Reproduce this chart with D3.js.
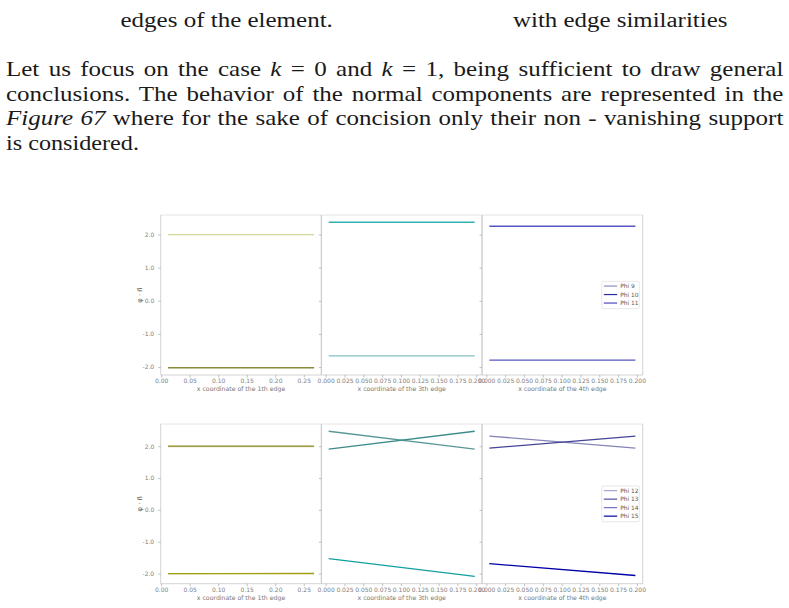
<!DOCTYPE html>
<html>
<head>
<meta charset="utf-8">
<script src="https://cdn.jsdelivr.net/npm/d3@7"></script>
<style>
  body { margin: 0; background: #fff; }
  svg { display: block; }
  .tick text { font-family: "DejaVu Sans", sans-serif; font-size: 6px; fill: #808080; }
  .tick line { stroke: #999; stroke-width: 0.6; }
</style>
</head>
<body>
<div id="chart"></div>
<script>
// edges shown in the three columns
var edgeLabels = ["x coordinate of the 1th edge", "x coordinate of the 3th edge", "x coordinate of the 4th edge"];
var edgeX = [[0.012, 0.268], [0.004, 0.198], [0.004, 0.198]];
var edgeTicks = [
    [0, 0.05, 0.10, 0.15, 0.20, 0.25],
    [0, 0.025, 0.05, 0.075, 0.1, 0.125, 0.15, 0.175, 0.2],
    [0, 0.025, 0.05, 0.075, 0.1, 0.125, 0.15, 0.175, 0.2]
];
var edgeTickFormat = [".2f", ".3f", ".3f"];
var yTicks = [-2, -1, 0, 1, 2];

// k = 0 : start / end value of each non-vanishing normal component
var topNames = ["Phi 9", "Phi 10", "Phi 11"];
var topEdge1 = [[2.0, 2.0], [-2.02, -2.02]];
var topEdge3 = [[2.37, 2.37], [-1.66, -1.66]];
var topEdge4 = [[2.25, 2.25], [-1.79, -1.79]];

// k = 1
var botNames = ["Phi 12", "Phi 13", "Phi 14", "Phi 15"];
var botEdge1 = [[1.985, 1.99], [2.0, 2.0], [-2.01, -1.98], [-2.0, -2.0]];
var botEdge3 = [[2.47, 1.91], [1.91, 2.47], [-1.53, -2.09]];
var botEdge4 = [[2.32, 1.94], [1.94, 2.32], [-1.69, -2.06]];

// colours
var topColors = [["#d6d696", "#8a8a36"], ["#36b0b0", "#84c0c0"], ["#5656c2", "#5656c2"]];
var topLegendColors = ["#8c8cc8", "#2c2c9e", "#4a4ac2"];
var botColors = [["#d8d8a0", "#8b8b2c", "#d8d8a0", "#a0a010"], ["#5a9898", "#3c8c8c", "#12a0a0"], ["#8484b8", "#44449a", "#0000a8"]];
var botLegendColors = ["#a4a4d2", "#4e4e9c", "#7070c8", "#0000a0"];

var W = 789, H = 608;
var svg = d3.select("#chart").append("svg").attr("width", W).attr("height", H);

// ---- surrounding page text ----
var serif = "'Liberation Serif', 'Times New Roman', 'DejaVu Serif', serif";
var page = svg.append("g")
    .attr("font-family", serif)
    .attr("font-size", 20)
    .attr("fill", "#1a1a1a");

function addLine() {
    return page.append("text");
}

// stretch the glyphs a little (CM is wider than Times) then justify with word spacing
function fit(sel, x, y, width, sx, justify) {
    var node = sel.node();
    var natural = node.getComputedTextLength();
    if (!sx) sx = width / natural;
    else if (justify) {
        var spaces = (node.textContent.match(/ /g) || []).length;
        sel.attr("word-spacing", (width / sx - natural) / spaces);
    }
    sel.attr("transform", "translate(" + x + "," + y + ") scale(" + sx + ",1)");
    return sx;
}

var c1 = addLine().text("edges of the element.");
var sx = fit(c1, 120.5, 26.5, 212.5);
var c2 = addLine().text("with edge similarities");
fit(c2, 513, 26.5, 214.5);

var l1 = addLine();
l1.append("tspan").text("Let us focus on the case ");
l1.append("tspan").attr("font-style", "italic").text("k");
l1.append("tspan").text(" = 0 and ");
l1.append("tspan").attr("font-style", "italic").text("k");
l1.append("tspan").text(" = 1, being sufficient to draw general");
fit(l1, 6, 76, 778, sx, true);

var l2 = addLine()
    .text("conclusions. The behavior of the normal components are represented in the");
fit(l2, 6, 100.7, 778, sx, true);

var l3 = addLine();
l3.append("tspan").attr("font-style", "italic").text("Figure 67");
l3.append("tspan").text(" where for the sake of concision only their non - vanishing support");
fit(l3, 6, 125.4, 778, sx, true);

var l4 = addLine().text("is considered.");
fit(l4, 6, 150, 133);

// ---- figure ----
var panelLeft = 160.7, panelW = 160.67;
var sans = "'DejaVu Sans', sans-serif";

function pad(ext) {
    var m = (ext[1] - ext[0]) * 0.05;
    return [ext[0] - m, ext[1] + m];
}

function drawFigure(top, bottom, edges, colors, names, legendColors) {
    var all = d3.merge(edges.map(function (e) { return d3.merge(e); }));
    var y = d3.scaleLinear().domain(pad(d3.extent(all))).range([bottom, top]);
    var g = svg.append("g");

    edges.forEach(function (series, i) {
        var x0 = panelLeft + i * panelW, x1 = x0 + panelW;
        var x = d3.scaleLinear().domain(pad(edgeX[i])).range([x0, x1]);
        var p = g.append("g");

        // spines
        p.append("line").attr("x1", x0).attr("x2", x1).attr("y1", top).attr("y2", top)
            .attr("stroke", "#e4e4e4").attr("stroke-width", 1);
        p.append("line").attr("x1", x0).attr("x2", x1).attr("y1", bottom).attr("y2", bottom)
            .attr("stroke", "#c8c8c8").attr("stroke-width", 0.8);
        [x0, x1].forEach(function (sxp) {
            p.append("line").attr("x1", sxp).attr("x2", sxp).attr("y1", top).attr("y2", bottom)
                .attr("stroke", "#c8c8c8").attr("stroke-width", 0.8);
        });

        var xa = p.append("g").attr("transform", "translate(0," + bottom + ")")
            .call(d3.axisBottom(x).tickValues(edgeTicks[i]).tickFormat(d3.format(edgeTickFormat[i]))
                .tickSize(2.5).tickPadding(1.6));
        xa.select(".domain").remove();

        var ya = p.append("g").attr("transform", "translate(" + x0 + ",0)")
            .call(d3.axisLeft(y).tickValues(yTicks).tickSize(2.5).tickPadding(4)
                .tickFormat(function (d) { return i === 0 ? d.toFixed(1) : ""; }));
        ya.select(".domain").remove();

        p.append("text")
            .attr("x", (x0 + x1) / 2).attr("y", bottom + 16.3)
            .attr("text-anchor", "middle")
            .attr("font-family", sans).attr("font-size", 6.2).attr("fill", "#777")
            .text(edgeLabels[i]);

        var line = d3.line()
            .x(function (d) { return x(d[0]); })
            .y(function (d) { return y(d[1]); });
        p.selectAll(".phi")
            .data(series)
            .enter().append("path")
            .attr("class", "phi")
            .attr("fill", "none")
            .attr("stroke", function (d, j) { return colors[i][j]; })
            .attr("stroke-width", 1.3)
            .attr("d", function (d) { return line([[edgeX[i][0], d[0]], [edgeX[i][1], d[1]]]); });
    });

    // y label
    svg.append("text")
        .attr("transform", "translate(142," + ((top + bottom) / 2) + ") rotate(-90)")
        .attr("text-anchor", "middle")
        .attr("font-family", sans).attr("font-size", 6.8).attr("fill", "#555")
        .text("\u03C6 \u00B7 n\u20D7");

    // legend on the last column, centre right
    var right = panelLeft + 3 * panelW - 3.4;
    var bw = 37.5, bh = names.length * 8.5 + 1.8;
    var by = (top + bottom) / 2 - bh / 2, bx = right - bw;
    var leg = svg.append("g");
    leg.append("rect").attr("x", bx).attr("y", by).attr("width", bw).attr("height", bh)
        .attr("rx", 1).attr("fill", "#fff").attr("stroke", "#d8d8d8").attr("stroke-width", 0.6);
    names.forEach(function (n, j) {
        var ly = by + 4.7 + j * 8.5;
        leg.append("line").attr("x1", bx + 2).attr("x2", bx + 15.4).attr("y1", ly).attr("y2", ly)
            .attr("stroke", legendColors[j]).attr("stroke-width", 1.2);
        leg.append("text").attr("x", bx + 18.4).attr("y", ly + 2)
            .attr("font-family", sans).attr("font-size", 5.9).attr("fill", "#555")
            .text(n);
    });
}

drawFigure(215, 375, [topEdge1, topEdge3, topEdge4], topColors, topNames, topLegendColors);
drawFigure(424, 583.7, [botEdge1, botEdge3, botEdge4], botColors, botNames, botLegendColors);
</script>
</body>
</html>
